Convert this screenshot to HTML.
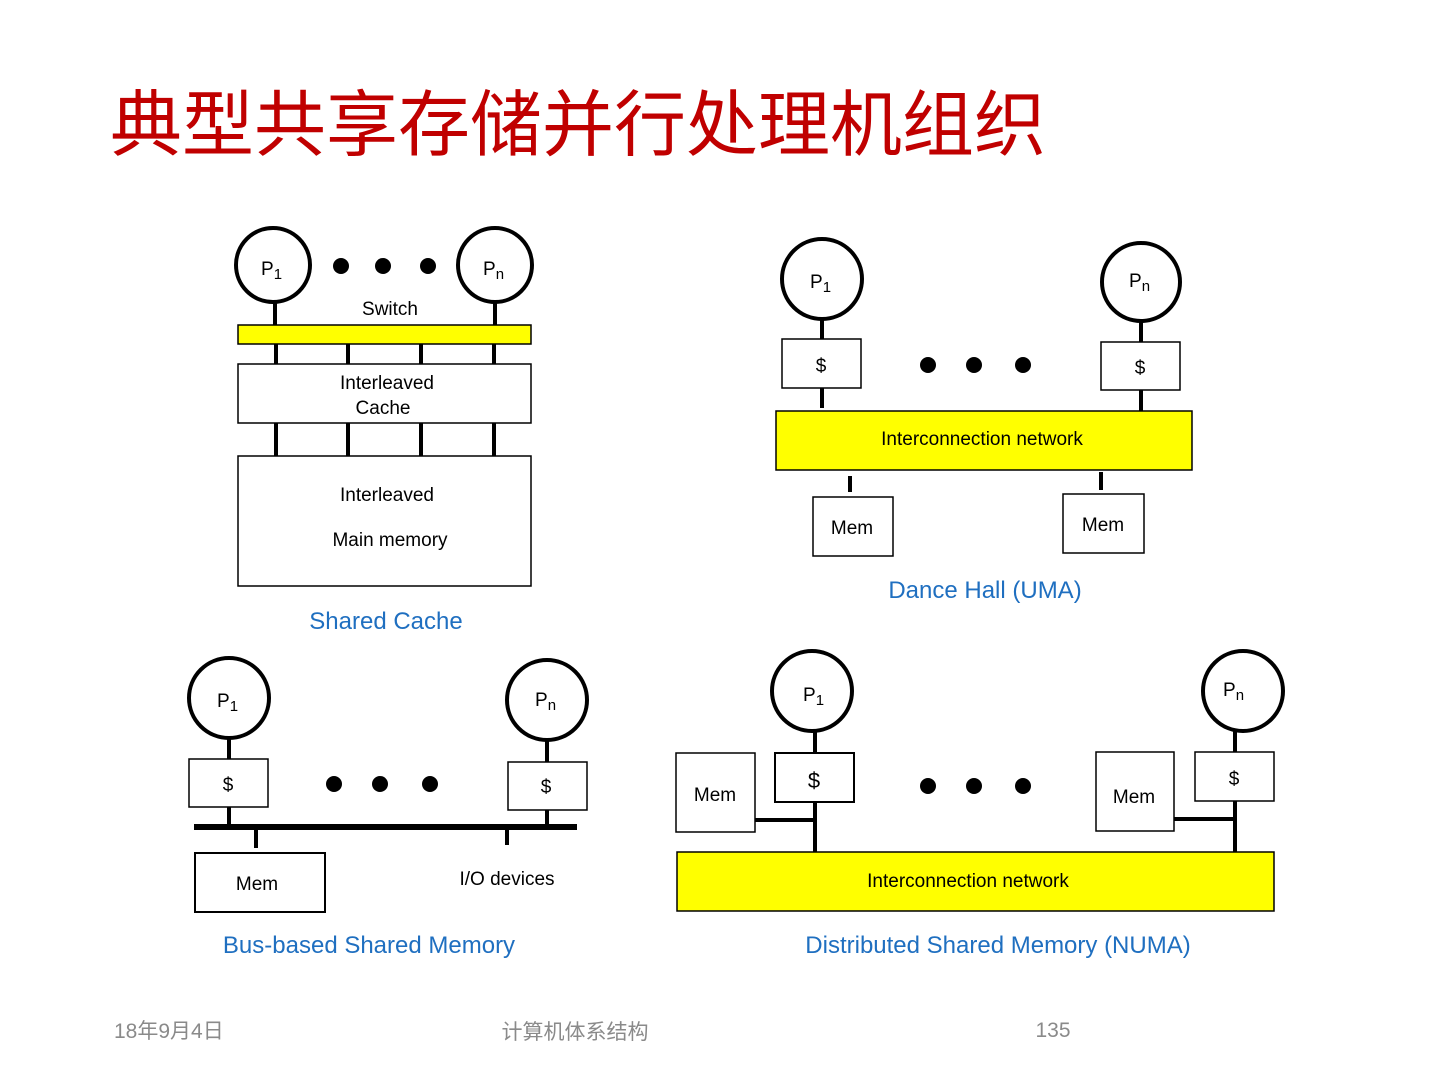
<!DOCTYPE html>
<html><head><meta charset="utf-8"><style>
html,body{margin:0;padding:0;background:#fff;}
svg{display:block;}
text{font-family:"Liberation Sans","Noto Sans CJK SC",sans-serif;}
</style></head><body>
<svg width="1440" height="1080" viewBox="0 0 1440 1080" xmlns="http://www.w3.org/2000/svg">
<rect width="1440" height="1080" fill="#fff"/>
<text x="110" y="150" font-size="72" fill="#c00000" font-family="Liberation Sans, Noto Sans CJK SC, sans-serif">典型共享存储并行处理机组织</text>

<g stroke="#000" fill="none">
<!-- Shared cache -->
<g stroke-width="4"><circle cx="273" cy="265" r="37"/><circle cx="495" cy="265" r="37"/></g>
<g stroke-width="4">
<line x1="275" y1="302" x2="275" y2="325"/><line x1="495" y1="302" x2="495" y2="325"/>
<line x1="276" y1="344" x2="276" y2="364"/><line x1="348" y1="344" x2="348" y2="364"/><line x1="421" y1="344" x2="421" y2="364"/><line x1="494" y1="344" x2="494" y2="364"/>
<line x1="276" y1="423" x2="276" y2="456"/><line x1="348" y1="423" x2="348" y2="456"/><line x1="421" y1="423" x2="421" y2="456"/><line x1="494" y1="423" x2="494" y2="456"/>
</g>
<rect x="238" y="325" width="293" height="19" fill="#ffff00" stroke-width="1.5"/>
<rect x="238" y="364" width="293" height="59" fill="#fff" stroke-width="1.5"/>
<rect x="238" y="456" width="293" height="130" fill="#fff" stroke-width="1.5"/>

<!-- Dance hall -->
<g stroke-width="4"><circle cx="822" cy="279" r="40"/><circle cx="1141" cy="282" r="39"/>
<line x1="822" y1="319" x2="822" y2="339"/><line x1="822" y1="388" x2="822" y2="408"/>
<line x1="1141" y1="321" x2="1141" y2="342"/><line x1="1141" y1="390" x2="1141" y2="411"/>
<line x1="850" y1="476" x2="850" y2="492"/><line x1="1101" y1="472" x2="1101" y2="490"/></g>
<rect x="782" y="339" width="79" height="49" fill="#fff" stroke-width="1.5"/>
<rect x="1101" y="342" width="79" height="48" fill="#fff" stroke-width="1.5"/>
<rect x="776" y="411" width="416" height="59" fill="#ffff00" stroke-width="1.5"/>
<rect x="813" y="497" width="80" height="59" fill="#fff" stroke-width="1.5"/>
<rect x="1063" y="494" width="81" height="59" fill="#fff" stroke-width="1.5"/>

<!-- Bus -->
<g stroke-width="4"><circle cx="229" cy="698" r="40"/><circle cx="547" cy="700" r="40"/>
<line x1="229" y1="738" x2="229" y2="759"/><line x1="229" y1="807" x2="229" y2="827"/>
<line x1="547" y1="740" x2="547" y2="762"/><line x1="547" y1="810" x2="547" y2="827"/>
<line x1="256" y1="830" x2="256" y2="848"/><line x1="507" y1="829" x2="507" y2="845"/></g>
<line x1="194" y1="827" x2="577" y2="827" stroke-width="6"/>
<rect x="189" y="759" width="79" height="48" fill="#fff" stroke-width="1.5"/>
<rect x="508" y="762" width="79" height="48" fill="#fff" stroke-width="1.5"/>
<rect x="195" y="853" width="130" height="59" fill="#fff" stroke-width="2"/>

<!-- NUMA -->
<g stroke-width="4"><circle cx="812" cy="691" r="40"/><circle cx="1243" cy="691" r="40"/>
<line x1="815" y1="731" x2="815" y2="852"/><line x1="1235" y1="731" x2="1235" y2="852"/>
<line x1="755" y1="820" x2="815" y2="820"/><line x1="1174" y1="819" x2="1235" y2="819"/></g>
<rect x="775" y="753" width="79" height="49" fill="#fff" stroke-width="2"/>
<rect x="1195" y="752" width="79" height="49" fill="#fff" stroke-width="1.5"/>
<rect x="676" y="753" width="79" height="79" fill="#fff" stroke-width="1.5"/>
<rect x="1096" y="752" width="78" height="79" fill="#fff" stroke-width="1.5"/>
<rect x="677" y="852" width="597" height="59" fill="#ffff00" stroke-width="1.5"/>
</g>

<g fill="#000">
<circle cx="341" cy="266" r="8"/><circle cx="383" cy="266" r="8"/><circle cx="428" cy="266" r="8"/>
<circle cx="928" cy="365" r="8"/><circle cx="974" cy="365" r="8"/><circle cx="1023" cy="365" r="8"/>
<circle cx="334" cy="784" r="8"/><circle cx="380" cy="784" r="8"/><circle cx="430" cy="784" r="8"/>
<circle cx="928" cy="786" r="8"/><circle cx="974" cy="786" r="8"/><circle cx="1023" cy="786" r="8"/>
</g>

<g font-size="19" fill="#000">
<text x="261" y="275">P<tspan font-size="15" dy="4">1</tspan></text>
<text x="483" y="275">P<tspan font-size="15" dy="4">n</tspan></text>
<text x="390" y="315" text-anchor="middle">Switch</text>
<text x="387" y="389" text-anchor="middle">Interleaved</text>
<text x="383" y="414" text-anchor="middle">Cache</text>
<text x="387" y="501" text-anchor="middle">Interleaved</text>
<text x="390" y="546" text-anchor="middle">Main memory</text>

<text x="810" y="288">P<tspan font-size="15" dy="4">1</tspan></text>
<text x="1129" y="287">P<tspan font-size="15" dy="4">n</tspan></text>
<text x="821" y="372" text-anchor="middle">$</text>
<text x="1140" y="374" text-anchor="middle">$</text>
<text x="982" y="445" text-anchor="middle">Interconnection network</text>
<text x="852" y="534" text-anchor="middle">Mem</text>
<text x="1103" y="531" text-anchor="middle">Mem</text>

<text x="217" y="707">P<tspan font-size="15" dy="4">1</tspan></text>
<text x="535" y="706">P<tspan font-size="15" dy="4">n</tspan></text>
<text x="228" y="791" text-anchor="middle">$</text>
<text x="546" y="793" text-anchor="middle">$</text>
<text x="257" y="890" text-anchor="middle">Mem</text>
<text x="507" y="885" text-anchor="middle">I/O devices</text>

<text x="803" y="701">P<tspan font-size="15" dy="4">1</tspan></text>
<text x="1223" y="696">P<tspan font-size="15" dy="4">n</tspan></text>
<text x="814" y="788" text-anchor="middle" font-size="22">$</text>
<text x="1234" y="785" text-anchor="middle">$</text>
<text x="715" y="801" text-anchor="middle">Mem</text>
<text x="1134" y="803" text-anchor="middle">Mem</text>
<text x="968" y="887" text-anchor="middle">Interconnection network</text>
</g>

<g font-size="24" fill="#1f6fc0" text-anchor="middle">
<text x="386" y="629">Shared Cache</text>
<text x="985" y="598">Dance Hall (UMA)</text>
<text x="369" y="953">Bus-based Shared Memory</text>
<text x="998" y="953">Distributed Shared Memory (NUMA)</text>
</g>

<g font-size="21" fill="#8a8a8a">
<text x="114" y="1038">18年9月4日</text>
<text x="575" y="1039" text-anchor="middle">计算机体系结构</text>
<text x="1053" y="1037" text-anchor="middle">135</text>
</g>
</svg>
</body></html>
